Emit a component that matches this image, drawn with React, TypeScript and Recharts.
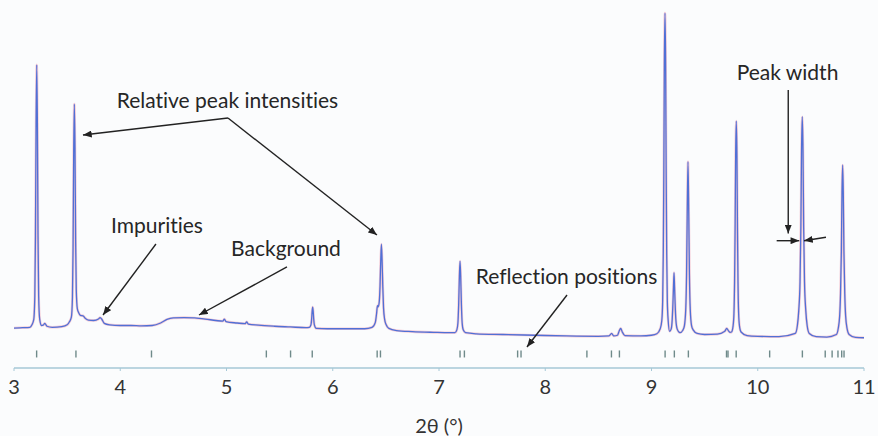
import {
  ComposedChart,
  Line,
  Scatter,
  XAxis,
  YAxis,
  ReferenceLine,
  ReferenceDot,
} from "recharts";

const FONT = "Lato, 'Open Sans', sans-serif";
const TEXT = "#262626";

// [2θ (°), intensity (% of strongest)]
const profileLow: [number, number][] = [
  [3.0, 11.1], [3.08, 11.2], [3.15, 11.3], [3.169, 12.0], [3.186, 13.5], [3.196, 20.0],
  [3.202, 36.8], [3.208, 68.2], [3.214, 84.2], [3.22, 68.2], [3.226, 36.8], [3.232, 20.0],
  [3.242, 13.5], [3.259, 11.8], [3.275, 11.9], [3.29, 12.4], [3.31, 11.6], [3.36, 11.3],
  [3.45, 11.5], [3.5, 12.0], [3.523, 12.9], [3.54, 14.1], [3.55, 19.5], [3.556, 33.4],
  [3.562, 60.5], [3.568, 73.3], [3.574, 61.3], [3.58, 35.6], [3.586, 21.8], [3.596, 16.5],
  [3.61, 15.3], [3.625, 14.6], [3.65, 14.5], [3.67, 13.8], [3.7, 13.3], [3.75, 13.2],
  [3.795, 13.6], [3.81, 14.0], [3.825, 13.6], [3.85, 12.4], [3.9, 12.0], [4.0, 11.8],
  [4.1, 11.8], [4.2, 11.7], [4.3, 11.8],
];

const profileMid: [number, number][] = [
  [4.38, 12.5], [4.44, 13.5], [4.5, 13.9], [4.6, 14.0], [4.7, 13.9], [4.8, 13.6],
  [4.9, 13.2], [4.965, 13.0], [4.98, 13.6], [4.995, 12.9], [5.1, 12.5], [5.175, 12.3],
  [5.19, 12.8], [5.205, 12.2], [5.3, 11.9], [5.45, 11.6], [5.6, 11.4], [5.75, 11.2],
  [5.78, 11.3], [5.795, 12.0], [5.801, 13.5], [5.806, 15.7], [5.811, 16.9], [5.816, 15.7],
  [5.821, 13.5], [5.827, 12.0], [5.845, 11.0], [5.95, 10.9], [6.15, 10.9], [6.3, 10.9],
  [6.37, 11.3], [6.4, 12.6], [6.412, 15.0], [6.421, 17.3], [6.428, 17.0], [6.438, 18.5],
  [6.445, 22.8], [6.452, 30.2], [6.458, 34.4], [6.464, 30.2], [6.471, 22.6], [6.478, 16.7],
  [6.488, 13.6], [6.503, 12.0], [6.528, 11.0], [6.6, 10.4], [6.75, 10.1], [6.95, 9.9],
  [7.1, 9.8], [7.15, 9.8], [7.168, 10.6], [7.178, 12.5], [7.185, 17.5], [7.192, 25.5],
  [7.198, 29.7], [7.204, 25.5], [7.211, 17.5], [7.218, 12.5], [7.228, 10.6], [7.25, 9.8],
  [7.35, 9.5], [7.6, 9.3], [7.9, 9.1],
];

const profileHigh: [number, number][] = [
  [8.2, 8.9], [8.5, 8.8], [8.6, 8.9], [8.625, 9.6], [8.645, 8.9], [8.68, 9.1],
  [8.695, 10.2], [8.71, 11.0], [8.725, 10.0], [8.75, 9.0], [8.9, 8.9], [9.0, 9.1],
  [9.05, 9.5], [9.082, 10.9], [9.097, 13.2], [9.105, 18.5], [9.111, 31.9], [9.116, 54.1],
  [9.121, 84.4], [9.127, 98.6], [9.133, 84.4], [9.138, 54.1], [9.143, 31.9], [9.149, 18.5],
  [9.157, 13.2], [9.17, 10.2], [9.185, 10.8], [9.195, 13.5], [9.202, 18.2], [9.207, 22.5],
  [9.212, 26.5], [9.217, 22.5], [9.222, 18.2], [9.229, 13.5], [9.242, 10.8], [9.268, 9.8],
  [9.295, 10.5], [9.31, 11.8], [9.322, 16.1], [9.33, 26.0], [9.336, 42.0], [9.3435, 57.3],
  [9.351, 42.0], [9.357, 26.0], [9.365, 16.1], [9.377, 11.8], [9.392, 10.6], [9.43, 9.6],
  [9.5, 9.3], [9.62, 9.4], [9.69, 10.2], [9.708, 11.0], [9.725, 10.3], [9.74, 9.9],
  [9.753, 10.0], [9.768, 11.7], [9.776, 15.2], [9.782, 24.1], [9.787, 39.0], [9.792, 59.1],
  [9.798, 68.6], [9.804, 59.1], [9.809, 39.0], [9.814, 24.1], [9.82, 15.2], [9.828, 11.7],
  [9.843, 10.0], [9.9, 9.0], [10.0, 8.8], [10.2, 8.7], [10.353, 9.6], [10.373, 11.8],
  [10.386, 16.0], [10.398, 24.0], [10.406, 39.3], [10.412, 60.0], [10.419, 69.8], [10.426, 60.0],
  [10.432, 39.3], [10.44, 24.0], [10.452, 16.0], [10.465, 11.8], [10.485, 9.6], [10.55, 8.7],
  [10.65, 8.6], [10.74, 9.3], [10.757, 10.9], [10.771, 14.5], [10.779, 20.6], [10.787, 32.5],
  [10.793, 48.8], [10.799, 56.4], [10.805, 48.8], [10.811, 32.5], [10.819, 20.6], [10.827, 14.5],
  [10.841, 10.9], [10.86, 9.3], [10.92, 8.5], [11.0, 8.4],
];

// calculated Bragg reflection positions (2θ)
const reflections = [
  3.213, 3.583, 4.294, 5.375, 5.603, 5.807, 6.418, 6.449, 7.198, 7.239, 7.74, 7.772,
  8.392, 8.623, 8.698, 9.128, 9.215, 9.347, 9.706, 9.72, 9.797, 10.112, 10.42,
  10.635, 10.7, 10.755, 10.79, 10.812,
];
const reflectionLevel = 3.9;

const xTicks = [3, 4, 5, 6, 7, 8, 9, 10, 11];

const notes = [
  { text: "Relative peak intensities", x: 5.009, y: 74.3 },
  { text: "Impurities", x: 4.346, y: 39.6 },
  { text: "Background", x: 5.56, y: 33.2 },
  { text: "Reflection positions", x: 8.2, y: 25.4 },
  { text: "Peak width", x: 10.28, y: 82.1 },
];

// [x1, y1, x2, y2] in data units, arrow head at the second point
const arrows = [
  [5.014, 69.44, 3.649, 64.72],
  [5.014, 69.44, 6.416, 36.94],
  [4.336, 34.44, 3.838, 14.72],
  [5.569, 28.06, 4.741, 14.72],
  [8.205, 20.28, 7.828, 5.83],
  [10.287, 77.22, 10.287, 37.36],
  [10.178, 35.36, 10.391, 35.36],
  [10.642, 36.31, 10.435, 35.36],
];

const chartData = [...profileLow, ...profileMid, ...profileHigh].map(([x, y]) => ({ x, y }));
const tickData = reflections.map((x) => ({ x, y: reflectionLevel }));

const ReflectionTick = (p: any) => (
  <line
    x1={p.cx}
    x2={p.cx}
    y1={p.cy - 3.5}
    y2={p.cy + 3.5}
    stroke="#6f8a8a"
    strokeWidth={1.4}
  />
);

const Arrow = (p: any) => (
  <line
    x1={p.x1}
    y1={p.y1}
    x2={p.x2}
    y2={p.y2}
    stroke="#222"
    strokeWidth={1.4}
    markerEnd="url(#arrowHead)"
  />
);

export default function App() {
  return (
    <div
      style={{
        position: "absolute",
        left: 0,
        top: 0,
        width: 878,
        height: 436,
        background: "#fbfcfd",
        fontVariantLigatures: "none",
      }}
    >
      <ComposedChart
        width={878}
        height={436}
        data={chartData}
        margin={{ top: 8, right: 14, bottom: 0, left: 14 }}
      >
        <defs>
          <marker
            id="arrowHead"
            viewBox="0 0 10 8"
            refX={10}
            refY={4}
            markerWidth={9}
            markerHeight={7}
            markerUnits="userSpaceOnUse"
            orient="auto"
          >
            <path d="M0,0 L10,4 L0,8 z" fill="#222" />
          </marker>
        </defs>
        <XAxis
          dataKey="x"
          type="number"
          domain={[3, 11]}
          ticks={xTicks}
          interval={0}
          allowDataOverflow
          height={68}
          axisLine={{ stroke: "#a6c8d6", strokeWidth: 1.5 }}
          tickLine={{ stroke: "#a6c8d6" }}
          tickSize={3}
          tickMargin={9}
          tick={{ fill: "#333", fontSize: 20, fontFamily: FONT }}
          label={{
            value: "2θ (°)",
            position: "insideBottom",
            offset: 3,
            fill: "#333",
            fontSize: 20,
            fontFamily: FONT,
          }}
        />
        <YAxis dataKey="y" type="number" domain={[0, 100]} hide allowDataOverflow />
        <Line
          dataKey="y"
          type="monotone"
          stroke="#ec8fa6"
          strokeOpacity={0.45}
          strokeWidth={2.6}
          dot={false}
          isAnimationActive={false}
        />
        <Line
          dataKey="y"
          type="monotone"
          stroke="#5070d6"
          strokeWidth={1.3}
          dot={false}
          isAnimationActive={false}
        />
        <Scatter data={tickData} shape={ReflectionTick} isAnimationActive={false} />
        {arrows.map(([x1, y1, x2, y2], i) => (
          <ReferenceLine
            key={`arrow-${i}`}
            segment={[
              { x: x1, y: y1 },
              { x: x2, y: y2 },
            ]}
            ifOverflow="visible"
            shape={Arrow}
          />
        ))}
        {notes.map((n) => (
          <ReferenceDot
            key={n.text}
            x={n.x}
            y={n.y}
            r={0}
            fill="none"
            stroke="none"
            ifOverflow="visible"
            label={{
              value: n.text,
              position: "center",
              fill: TEXT,
              fontSize: 21,
              fontFamily: FONT,
            }}
          />
        ))}
      </ComposedChart>
    </div>
  );
}
